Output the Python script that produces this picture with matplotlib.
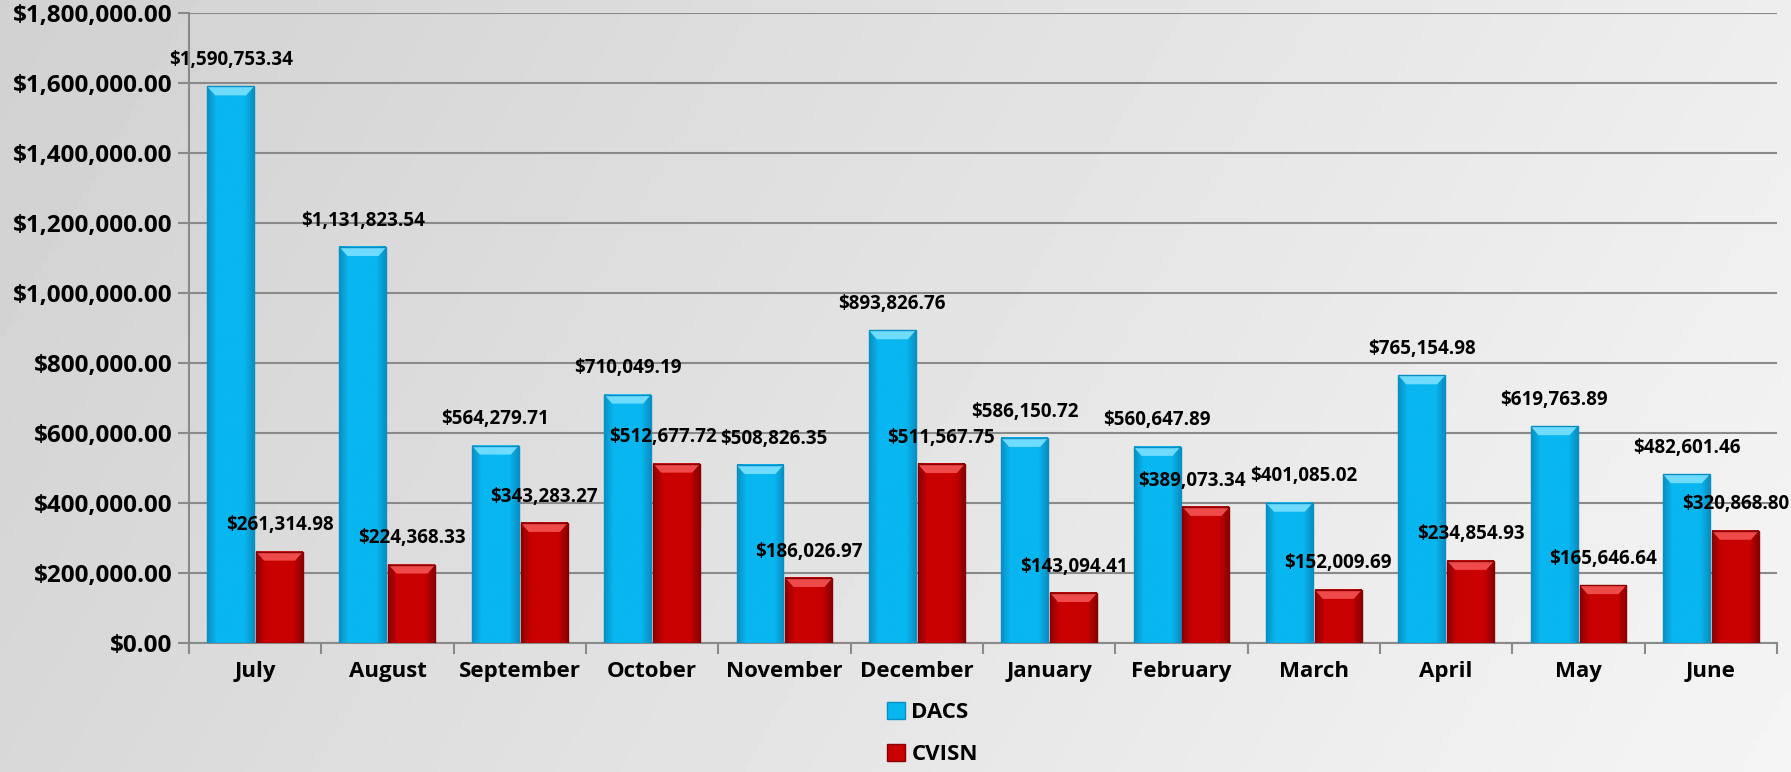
import numpy as np
import matplotlib.pyplot as plt
from matplotlib.colors import LinearSegmentedColormap
from matplotlib.patches import Polygon, Patch

plt.rcParams['font.family'] = ['Open Sans', 'DejaVu Sans']
plt.rcParams['font.weight'] = 'bold'

months = ["July", "August", "September", "October", "November", "December",
          "January", "February", "March", "April", "May", "June"]
dacs = [1590753.34, 1131823.54, 564279.71, 710049.19, 508826.35, 893826.76,
        586150.72, 560647.89, 401085.02, 765154.98, 619763.89, 482601.46]
cvisn = [261314.98, 224368.33, 343283.27, 512677.72, 186026.97, 511567.75,
         143094.41, 389073.34, 152009.69, 234854.93, 165646.64, 320868.80]
series_names = ["DACS", "CVISN"]

# colours: edge, body, bevel top
blue = ("#0a8fc4", "#08b6f0", "#6fdcff")
red = ("#8a0000", "#c80000", "#ee4a4a")

fig = plt.figure(figsize=(17.91, 7.72), dpi=100)

# grey gradient background
bg = fig.add_axes([0, 0, 1, 1], zorder=-10)
gx = np.linspace(0, 1, 300)
gy = np.linspace(0, 1, 150)
GX, GY = np.meshgrid(gx, gy)
G = 0.82 + 0.14 * (0.8 * GX + 0.2 * GY)
bg.imshow(G, cmap='gray', vmin=0, vmax=1, aspect='auto', extent=[0, 1, 0, 1])
bg.axis('off')

ax = fig.add_axes([0.1055, 0.167, 0.8867, 0.816])
ax.patch.set_alpha(0)

x = np.arange(len(months))
w = 0.355
ymax = 1800000

# pixel -> data conversions for the bevel
dy = ymax / (0.816 * 772)
dx = len(months) / (0.8867 * 1791)

def draw_bars(xs, vals, cols):
    edge, body, light = cols
    cmap = LinearSegmentedColormap.from_list("b", [edge, body, body, body, body, edge])
    grad = np.linspace(0, 1, 100).reshape(1, -1)
    for xc, v in zip(xs, vals):
        x0 = xc - w / 2
        ax.imshow(grad, cmap=cmap, aspect='auto', extent=[x0, x0 + w, 0, v], zorder=3)
        bev = 9 * dy
        ins = 8 * dx
        ax.add_patch(Polygon([[x0, v], [x0 + w, v], [x0 + w - ins, v - bev], [x0 + ins, v - bev]],
                             closed=True, facecolor=light, edgecolor='none', zorder=4))
        ax.add_patch(plt.Rectangle((x0, 0), w, v, facecolor='none', edgecolor=edge, lw=1.0, zorder=5))

off = 0.185
draw_bars(x - off, dacs, blue)
draw_bars(x + off, cvisn, red)
ax.set_xlim(-0.5, len(months) - 0.5)
ax.set_ylim(0, ymax)

labels = {}
for name, xs, vals in (("d", x - off, dacs), ("c", x + off, cvisn)):
    labels[name] = []
    for xc, v in zip(xs, vals):
        t = ax.annotate(f"${v:,.2f}", (xc, v), xytext=(0, 19), textcoords='offset points',
                        ha='center', va='center', fontsize=13.5, fontweight='bold', zorder=6)
        labels[name].append(t)

ax.set_yticks(np.arange(0, ymax + 1, 200000))
ax.set_yticklabels([f"${v:,.2f}" for v in np.arange(0, ymax + 1, 200000)], fontsize=17.5, fontweight='bold')
ax.yaxis.grid(True, color='#8a8a8a', lw=1.5)
ax.set_axisbelow(True)
ax.tick_params(axis='y', length=8, width=1.5, color='#8a8a8a', pad=4)

ax.set_xticks(np.arange(-0.5, len(months), 1))
ax.set_xticklabels([])
ax.tick_params(axis='x', which='major', length=8, width=1.5, color='#8a8a8a')
ax.set_xticks(x, minor=True)
ax.set_xticklabels(months, minor=True, fontsize=16, fontweight='bold')
ax.tick_params(axis='x', which='minor', length=0, pad=13)

for s in ('top', 'right'):
    ax.spines[s].set_visible(False)
for s in ('left', 'bottom'):
    ax.spines[s].set_color('#8a8a8a')
    ax.spines[s].set_linewidth(1.5)

# push apart a CVISN label and the next month's DACS label when they collide
fig.canvas.draw()
r = fig.canvas.get_renderer()
for i in range(len(months) - 1):
    a, b = labels["c"][i], labels["d"][i + 1]
    ba, bb = a.get_window_extent(r), b.get_window_extent(r)
    if ba.overlaps(bb):
        gap = (ba.x1 - bb.x0 + 4) / 2 * 72 / fig.dpi
        a.xyann = (a.xyann[0] - gap, a.xyann[1])
        b.xyann = (b.xyann[0] + gap, b.xyann[1])

handles = [Patch(facecolor=blue[1], edgecolor=blue[0]), Patch(facecolor=red[1], edgecolor=red[0])]
leg = fig.legend(handles, series_names, loc='center left', bbox_to_anchor=(0.484, 0.05),
                 frameon=False, fontsize=16, handlelength=0.8, handleheight=0.8,
                 handletextpad=0.3, labelspacing=0.95)
for t in leg.get_texts():
    t.set_fontweight('bold')

fig.savefig("out.png", dpi=100)
